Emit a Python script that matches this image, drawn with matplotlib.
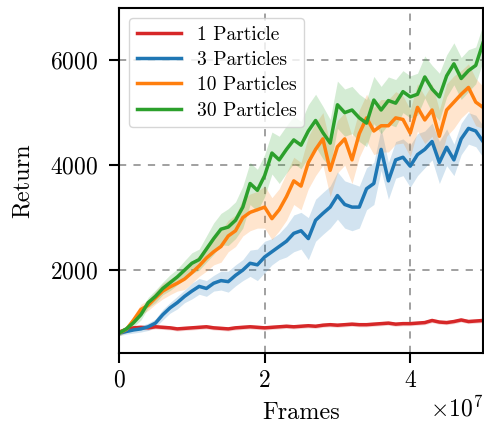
import numpy as np
import matplotlib
matplotlib.use("Agg")
import matplotlib.pyplot as plt

plt.rcParams["font.family"] = "serif"
plt.rcParams["font.serif"] = ["cmr10"]
plt.rcParams["mathtext.fontset"] = "cm"
plt.rcParams["axes.formatter.use_mathtext"] = True

# frames (one point per 1e6 frames)
frames = np.arange(51) * 1e6

ret_1 = [820, 870, 900, 910, 900, 920, 910, 900, 880, 890,
         900, 910, 920, 900, 890, 880, 900, 910, 920, 910,
         900, 910, 920, 930, 920, 930, 940, 930, 950, 960,
         950, 960, 970, 960, 960, 970, 980, 990, 970, 980,
         980, 990, 1000, 1040, 1010, 1000, 1020, 1050, 1020, 1030, 1040]
ret_3 = [800, 830, 860, 880, 920, 990, 1150, 1280, 1380, 1500,
         1600, 1690, 1650, 1750, 1800, 1780, 1900, 2000, 2130, 2100,
         2250, 2350, 2450, 2550, 2700, 2750, 2600, 2950, 3080, 3200,
         3420, 3250, 3200, 3200, 3550, 3650, 4300, 3700, 4100, 4150,
         3980, 4200, 4300, 4450, 4050, 4340, 4100, 4500, 4700, 4650, 4450]
ret_10 = [800, 870, 1050, 1250, 1330, 1470, 1600, 1680, 1750, 1830,
          1950, 2080, 2230, 2350, 2450, 2650, 2750, 3000, 3100, 3150,
          3200, 2980, 3150, 3400, 3700, 3600, 4050, 4300, 4500, 3900,
          4350, 4500, 4100, 4600, 4900, 4650, 4750, 4750, 4900, 4870,
          4610, 5100, 4860, 5050, 4550, 5050, 5200, 5350, 5480, 5200, 5100]
ret_30 = [800, 880, 1000, 1150, 1380, 1500, 1650, 1760, 1870, 2000,
          2130, 2200, 2400, 2600, 2780, 2820, 2950, 3200, 3650, 3520,
          3800, 4230, 4100, 4300, 4480, 4380, 4650, 4850, 4620, 4420,
          5150, 5000, 5050, 4900, 4800, 5240, 5050, 5230, 5180, 5400,
          5300, 5350, 5680, 5450, 5300, 5700, 5930, 5650, 5800, 5900, 6330]

# half width of the shaded band
spread_1 = [40, 40, 40, 40, 40, 40, 40, 40, 40, 40,
            40, 40, 40, 40, 40, 40, 40, 40, 40, 40,
            40, 40, 40, 40, 40, 40, 40, 40, 40, 40,
            40, 40, 40, 40, 40, 40, 40, 40, 40, 40,
            40, 40, 40, 40, 40, 40, 40, 40, 40, 40, 40]
spread_3 = [50, 50, 60, 60, 70, 80, 100, 100, 120, 120,
            150, 150, 150, 150, 180, 200, 200, 200, 250, 300,
            300, 250, 250, 300, 350, 350, 400, 400, 400, 400,
            450, 450, 450, 400, 400, 400, 400, 350, 350, 350,
            400, 400, 350, 350, 400, 350, 300, 300, 300, 300, 300]
spread_10 = [50, 60, 80, 100, 100, 120, 150, 150, 150, 200,
             200, 200, 250, 250, 300, 300, 300, 350, 350, 350,
             400, 400, 400, 450, 450, 450, 500, 500, 500, 500,
             500, 500, 450, 450, 450, 450, 500, 500, 500, 450,
             450, 450, 450, 500, 500, 500, 500, 450, 450, 450, 400]
spread_30 = [50, 60, 80, 100, 100, 120, 120, 150, 150, 180,
             200, 200, 250, 300, 300, 350, 350, 400, 400, 400,
             400, 400, 450, 450, 450, 450, 500, 500, 500, 450,
             450, 450, 450, 450, 450, 450, 450, 450, 450, 400,
             400, 400, 400, 450, 450, 400, 400, 400, 400, 350, 350]

labels = ["1 Particle", "3 Particles", "10 Particles", "30 Particles"]
colors = ["#d62728", "#1f77b4", "#ff7f0e", "#2ca02c"]
series = [ret_1, ret_3, ret_10, ret_30]
spreads = [spread_1, spread_3, spread_10, spread_30]

fig = plt.figure(figsize=(4.84, 4.30), dpi=100)
ax = fig.add_axes([0.246, 0.179, 0.752, 0.802])

for y, s, c, lab in zip(series, spreads, colors, labels):
    y = np.array(y)
    s = np.array(s)
    ax.fill_between(frames, y - s, y + s, color=c, alpha=0.2, linewidth=0)
    ax.plot(frames, y, color=c, linewidth=2.5, label=lab)

ax.set_xlim(0, 5e7)
ax.set_ylim(420, 6990)
ax.set_xticks([0, 2e7, 4e7])
ax.set_yticks([2000, 4000, 6000])
ax.grid(True, linestyle=(0, (4, 4)), color="#999999", linewidth=1.3)
ax.set_axisbelow(True)

ax.tick_params(labelsize=17, width=1.5, length=7)
ax.tick_params(axis="y", pad=8)
ax.tick_params(axis="x", pad=5)
for sp in ax.spines.values():
    sp.set_linewidth(1.5)
ax.xaxis.get_offset_text().set_fontsize(17)

ax.set_xlabel("Frames", fontsize=17.5, labelpad=7)
ax.set_ylabel("Return", fontsize=17.5, labelpad=12)

leg = ax.legend(loc="upper left", fontsize=14, handlelength=2.3,
                labelspacing=0.38, framealpha=0.8)
leg.get_frame().set_edgecolor("#cccccc")

fig.savefig("out.png", dpi=100)
